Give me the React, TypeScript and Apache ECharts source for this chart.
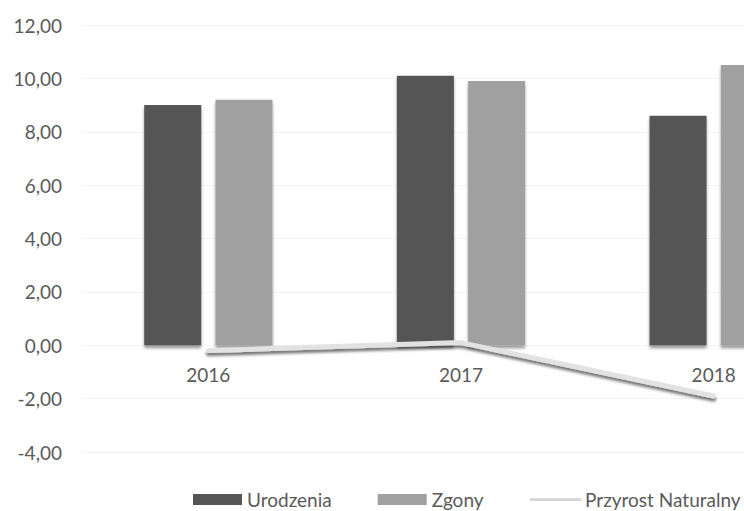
import React, { useEffect, useRef } from "react";
import * as echarts from "echarts";

// Roczne wskaźniki ruchu naturalnego (na 1000 mieszkańców)
const years = ["2016", "2017", "2018"];
const urodzenia = [9.0, 10.1, 8.6];
const zgony = [9.2, 9.9, 10.5];
const przyrost = [-0.2, 0.1, -1.9];

const yMin = -4;
const yMax = 12;
const yStep = 2;

const FONT = "Lato";
const TEXT_COLOR = "#5a5a5a";

const CHART_W = 840; // wider than the visible frame: the last category is cut off
const CHART_H = 511;
const GRID_TOP = 25;
const GRID_BOTTOM = 59;
const PLOT_H = CHART_H - GRID_TOP - GRID_BOTTOM;
// lift the category axis from the bottom edge up to the value 0
const ZERO_OFFSET = -((0 - yMin) / (yMax - yMin)) * PLOT_H;

const fmt = (v: number) => v.toFixed(2).replace(".", ",");

export default function App() {
  const ref = useRef<HTMLDivElement>(null);

  useEffect(() => {
    if (!ref.current) return;
    const chart = echarts.init(ref.current, undefined, { renderer: "svg" });
    chart.setOption({
      animation: false,
      backgroundColor: "#ffffff",
      textStyle: { fontFamily: FONT },
      grid: { left: 82, right: 0, top: GRID_TOP, bottom: GRID_BOTTOM, containLabel: false },
      legend: {
        left: 188,
        top: 485,
        itemWidth: 49,
        itemHeight: 11,
        itemGap: 46,
        textStyle: { fontFamily: FONT, fontSize: 19, color: TEXT_COLOR },
        data: [
          { name: "Urodzenia", icon: "rect" },
          { name: "Zgony", icon: "rect" },
          {
            name: "Przyrost Naturalny",
            itemStyle: { opacity: 0 },
            lineStyle: { width: 3, color: "#d6d6d6", shadowBlur: 0, shadowOffsetY: 0 },
          },
        ],
      },
      xAxis: {
        type: "category",
        data: years,
        position: "bottom",
        offset: ZERO_OFFSET,
        axisLine: { show: false, onZero: false },
        axisTick: { show: false },
        axisLabel: { fontFamily: FONT, fontSize: 19, color: TEXT_COLOR, margin: 20 },
      },
      yAxis: {
        type: "value",
        min: yMin,
        max: yMax,
        interval: yStep,
        axisLine: { show: false },
        axisTick: { show: false },
        splitLine: { lineStyle: { color: "#f3f3f3", width: 1 } },
        axisLabel: {
          fontFamily: FONT,
          fontSize: 19,
          color: TEXT_COLOR,
          margin: 20,
          formatter: (v: number) => fmt(v),
        },
      },
      series: [
        {
          name: "Urodzenia",
          type: "bar",
          data: urodzenia,
          barWidth: 57,
          barGap: "25%",
          itemStyle: {
            color: "#555555",
            shadowColor: "rgba(0,0,0,0.4)",
            shadowBlur: 3,
            shadowOffsetY: 3,
          },
        },
        {
          name: "Zgony",
          type: "bar",
          data: zgony,
          barWidth: 57,
          barGap: "25%",
          itemStyle: {
            color: "#a0a0a0",
            shadowColor: "rgba(0,0,0,0.4)",
            shadowBlur: 3,
            shadowOffsetY: 3,
          },
        },
        {
          name: "Przyrost Naturalny",
          type: "line",
          data: przyrost,
          symbol: "none",
          z: 5,
          lineStyle: {
            width: 5,
            color: "#e2e2e2",
            cap: "round",
            join: "round",
            shadowColor: "rgba(0,0,0,0.55)",
            shadowBlur: 3,
            shadowOffsetY: 3,
          },
          itemStyle: { color: "#d6d6d6" },
        },
      ],
    });
    return () => chart.dispose();
  }, []);

  return (
    <div
      style={{
        position: "fixed",
        left: 0,
        top: 0,
        width: 744,
        height: CHART_H,
        overflow: "hidden",
        background: "#fff",
      }}
    >
      <div ref={ref} style={{ width: CHART_W, height: CHART_H }} />
    </div>
  );
}
